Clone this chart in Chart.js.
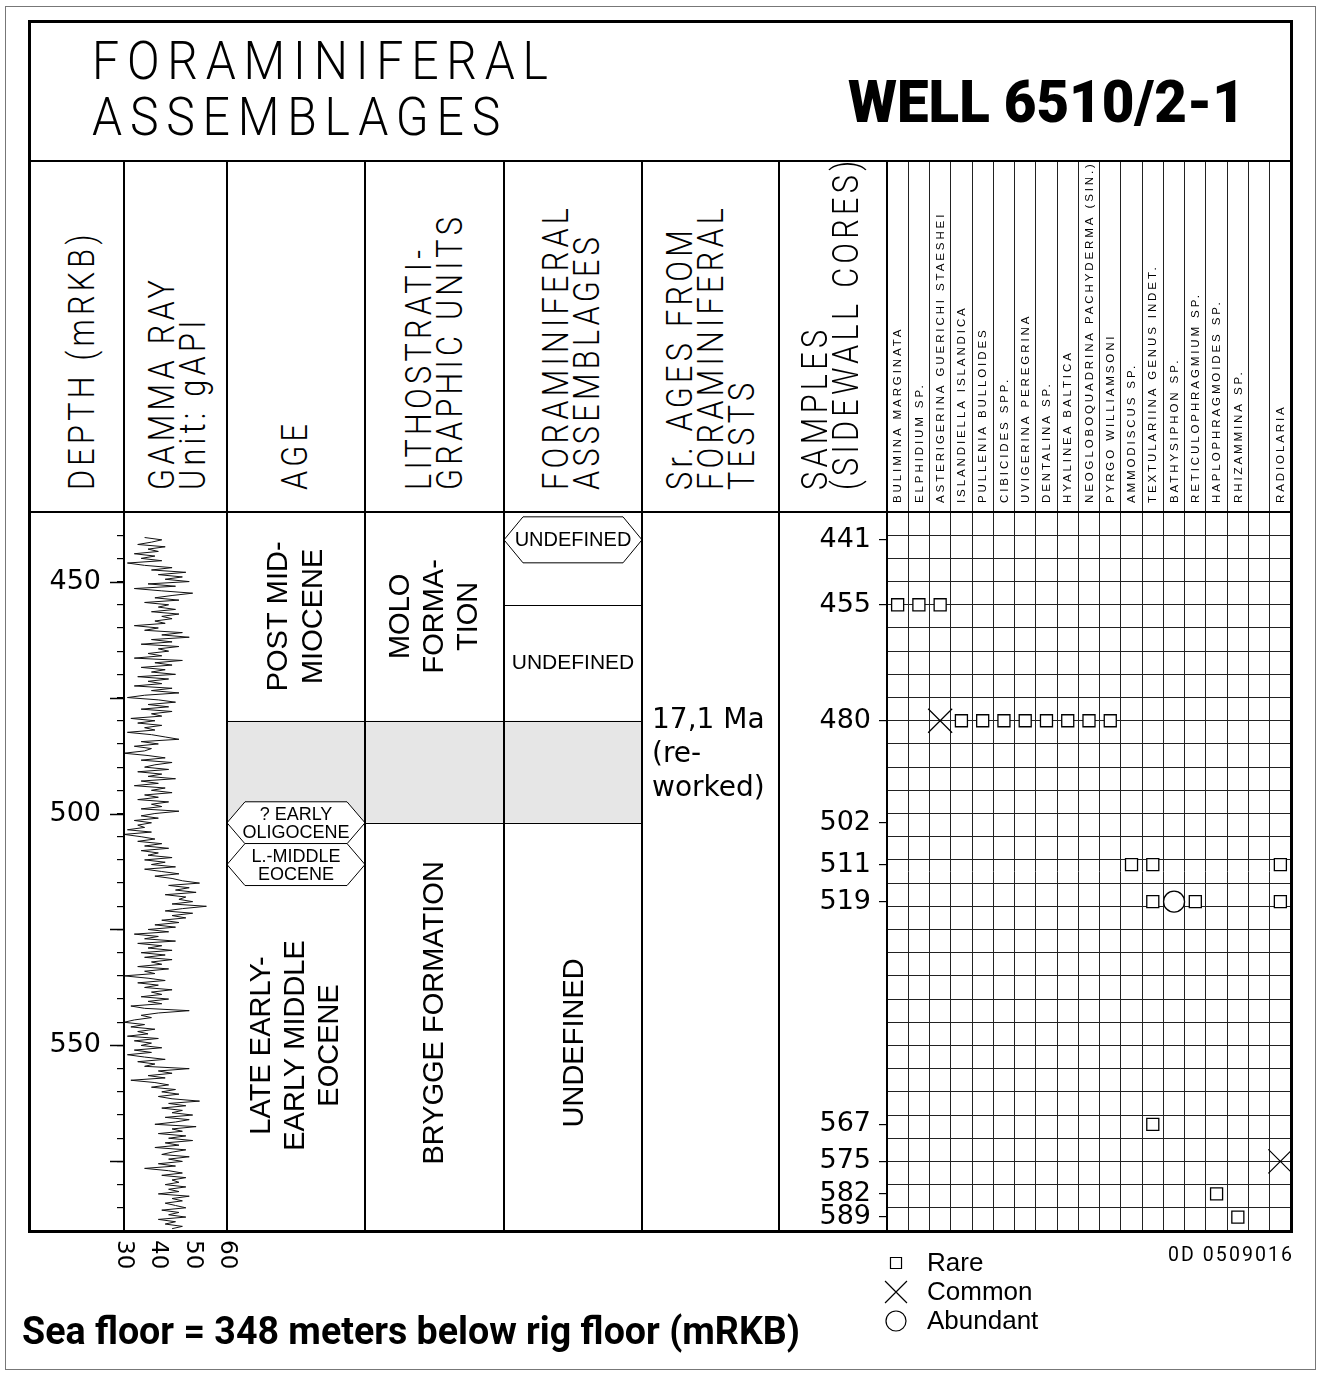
<!DOCTYPE html>
<html>
<head>
<meta charset="utf-8">
<title>Foraminiferal assemblages – Well 6510/2-1</title>
<script src="https://cdn.jsdelivr.net/npm/chart.js@4.4.1/dist/chart.umd.min.js"></script>
<style>
  html, body { margin: 0; padding: 0; background: #fff; }
  body { width: 1320px; height: 1375px; position: relative; overflow: hidden; }
  canvas { position: absolute; }
  .ln { position: absolute; background: #000; }
  .t { position: absolute; white-space: nowrap; color: #000; }
</style>
</head>
<body>
<canvas id="log" width="750" height="790" style="left:29px; top:500px"></canvas>
<canvas id="samples" width="541" height="1214" style="left:779px; top:161px"></canvas>
<script>
// ---- data ----
const depthMin = 435, depthMax = 590;
const depthLabels = [450, 500, 550];
const gammaTicks = [30, 40, 50, 60];

// gamma ray log (gAPI), every 0.5 m from 440.5 m
const gammaTop = 440.5, gammaStep = 0.5;
const gammaRay = [
  36, 41, 38, 34, 42, 37, 40, 33, 39, 35,
  41, 31, 36, 44, 38, 48, 40, 47, 42, 49,
  37, 45, 33, 41, 50, 44, 39, 46, 36, 43,
  40, 45, 38, 46, 41, 44, 39, 42, 33, 40,
  36, 47, 41, 49, 38, 44, 35, 46, 40, 43,
  37, 41, 33, 47, 39, 44, 35, 42, 38, 45,
  34, 43, 37, 41, 33, 44, 38, 46, 36, 31,
  40, 45, 37, 43, 35, 44, 38, 41, 32, 39,
  34, 41, 36, 39, 31, 38, 42, 46, 35, 40,
  33, 38, 36, 30, 37, 42, 35, 44, 39, 36,
  43, 34, 41, 37, 45, 35, 40, 33, 42, 38,
  44, 36, 40, 34, 43, 38, 41, 35, 46, 39,
  35, 40, 33, 38, 34, 36, 31, 38, 30, 35,
  39, 34, 41, 36, 43, 35, 40, 37, 44, 36,
  42, 38, 45, 36, 41, 46, 39, 44, 47, 52,
  43, 49, 45, 51, 42, 48, 46, 50, 44, 54,
  47, 42, 50, 44, 48, 41, 46, 39, 45, 37,
  43, 33, 40, 36, 45, 34, 41, 37, 44, 35,
  42, 36, 44, 38, 41, 34, 43, 36, 39, 30,
  37, 42, 34, 40, 36, 44, 38, 41, 35, 43,
  37, 41, 32, 36, 49, 40, 35, 38, 33, 30,
  36, 32, 39, 34, 37, 31, 40, 33, 38, 35,
  41, 33, 38, 31, 36, 42, 34, 39, 36, 49,
  40, 44, 37, 42, 32, 39, 43, 38, 45, 41,
  46, 40, 44, 52, 43, 48, 41, 47, 44, 50,
  42, 49, 45, 39, 51, 44, 47, 40, 48, 43,
  50, 42, 46, 39, 48, 44, 41, 49, 43, 47,
  40, 45, 36, 43, 47, 41, 48, 44, 46, 42,
  48, 43, 46, 40, 49, 44, 47, 42, 45, 48,
  41, 46, 43, 48, 40, 45, 42, 47, 44
];

const species = [
  'BULIMINA MARGINATA', 'ELPHIDIUM SP.', 'ASTERIGERINA GUERICHI STAESHEI',
  'ISLANDIELLA ISLANDICA', 'PULLENIA BULLOIDES', 'CIBICIDES SPP.',
  'UVIGERINA PEREGRINA', 'DENTALINA SP.', 'HYALINEA BALTICA',
  'NEOGLOBOQUADRINA PACHYDERMA (SIN.)', 'PYRGO WILLIAMSONI', 'AMMODISCUS SP.',
  'TEXTULARIINA GENUS INDET.', 'BATHYSIPHON SP.', 'RETICULOPHRAGMIUM SP.',
  'HAPLOPHRAGMOIDES SP.', 'RHIZAMMINA SP.', '', 'RADIOLARIA'
];

// sidewall core depths; the last one is drawn squeezed up above the base, as on the log
const sampleDepths     = [441, 455, 480, 502, 511, 519, 567, 575, 582, 589];
const samplePlotDepths = [441, 455, 480, 502, 511, 519, 567, 575, 582, 587];

// occurrences: sample depth -> species index
const rare     = { 455: [0, 1, 2], 480: [3, 4, 5, 6, 7, 8, 9, 10], 511: [11, 12, 18],
                   519: [12, 14, 18], 567: [12], 582: [15], 589: [16] };
const common   = { 480: [2], 575: [18] };
const abundant = { 519: [13] };

const ageUnits = [
  { from: 435, to: 480, lines: ['POST MID-', 'MIOCENE'] },
  { from: 510, to: 590, lines: ['LATE EARLY-', 'EARLY MIDDLE', 'EOCENE'] }
];
const ageDated = [
  { at: 502, lines: ['? EARLY', 'OLIGOCENE'] },
  { at: 511, lines: ['L.-MIDDLE', 'EOCENE'] }
];
const lithoUnits = [
  { from: 435, to: 480, lines: ['MOLO', 'FORMA-', 'TION'] },
  { from: 502, to: 590, lines: ['BRYGGE FORMATION'] }
];
const foramUnits = [
  { from: 455, to: 480, lines: ['UNDEFINED'], upright: true },
  { from: 502, to: 590, lines: ['UNDEFINED'] }
];
const foramDated = [{ at: 441, lines: ['UNDEFINED'] }];
const hiatus = [480, 502];
const srAge = { at: 480, lines: ['17,1 Ma', '(re-', 'worked)'] };

// ---- layout ----
const COL = { left: 29, gamma: 124, age: 227, litho: 365, foram: 504, sr: 642, samples: 779, grid: 887, right: 1291 };
const Y_TOP = 21, Y_HEAD = 161, Y_DATA = 512, Y_BASE = 1231;
const ARIAL = '"Liberation Sans", Arial, Helvetica, sans-serif';
const DEJAVU = '"DejaVu Sans", Verdana, sans-serif';
const ROBOTO = { fam: 'Roboto, "Liberation Sans", sans-serif', asc: 0.927, desc: 0.244, cap: 0.711 };

function line(x, y, w, h, color) {
  const d = document.createElement('div');
  d.className = 'ln';
  Object.assign(d.style, { left: x + 'px', top: y + 'px', width: w + 'px', height: h + 'px' });
  if (color) d.style.background = color;
  document.body.appendChild(d);
}

function makeText(text, o) {
  const d = document.createElement('div');
  d.className = 't';
  d.textContent = text;
  Object.assign(d.style, { fontFamily: ROBOTO.fam, fontSize: o.size + 'px', fontWeight: o.weight || 400, lineHeight: o.size + 'px' });
  document.body.appendChild(d);
  return d;
}
function natural(text, o) { const d = makeText(text, o); const w = d.getBoundingClientRect().width; d.remove(); return w; }
function tracking(text, len, o) { return (len / o.sx - natural(text, o)) / (text.length - 1); }
function capOffset(size) { return (size - (ROBOTO.asc + ROBOTO.desc) * size) / 2 + ROBOTO.asc * size - ROBOTO.cap * size; }

function put(text, o) {
  const d = makeText(text, o);
  const ls = o.ls || 0;
  d.style.letterSpacing = ls + 'px';
  const w = d.getBoundingClientRect().width - ls;
  const sx = o.sx || (o.len ? o.len / w : 1);
  const off = capOffset(o.size);
  d.style.transformOrigin = '0 0';
  if (o.vertical) {
    d.style.left = (o.capLeft - off) + 'px';
    d.style.top = o.y0 + 'px';
    d.style.transform = 'rotate(-90deg) scaleX(' + sx + ')';
  } else {
    d.style.left = (o.right !== undefined ? o.right - w * sx : o.x) + 'px';
    d.style.top = (o.capTop - off) + 'px';
    d.style.transform = 'scaleX(' + sx + ')';
  }
}

function hexagon(ctx, l, r, cy, h, inset) {
  ctx.beginPath();
  ctx.moveTo(l, cy);
  ctx.lineTo(l + inset, cy - h);
  ctx.lineTo(r - inset, cy - h);
  ctx.lineTo(r, cy);
  ctx.lineTo(r - inset, cy + h);
  ctx.lineTo(l + inset, cy + h);
  ctx.closePath();
  ctx.fillStyle = '#fff';
  ctx.fill();
  ctx.stroke();
}

function textLines(ctx, lines, cx, cy, pitch, rotate) {
  ctx.save();
  ctx.translate(cx, cy);
  if (rotate) ctx.rotate(-Math.PI / 2);
  ctx.textAlign = 'center';
  ctx.textBaseline = 'middle';
  lines.forEach((s, k) => {
    const off = (k - (lines.length - 1) / 2) * pitch;
    ctx.fillText(s, 0, off);
  });
  ctx.restore();
}

// ---- log chart: depth axis, gamma ray curve, stratigraphic columns ----
const logDecor = {
  id: 'logDecor',
  afterDraw(chart) {
    const { ctx, chartArea: a, scales: { x, y } } = chart;
    const X = px => px - COL.left;
    const Y = d => y.getPixelForValue(d);
    ctx.save();

    // long ticks every 25 m
    ctx.strokeStyle = '#000';
    ctx.lineWidth = 1.5;
    y.ticks.forEach(t => {
      if (t.value % 25) return;
      const py = Math.round(Y(t.value)) + 0.5;
      ctx.beginPath(); ctx.moveTo(a.left - 14, py); ctx.lineTo(a.left, py); ctx.stroke();
    });

    // gamma ray scale, written top-to-bottom under the column
    ctx.fillStyle = '#000';
    ctx.font = '23px ' + DEJAVU;
    ctx.textAlign = 'left';
    ctx.textBaseline = 'middle';
    gammaTicks.forEach(v => {
      ctx.save();
      ctx.translate(x.getPixelForValue(v), a.bottom + 9);
      ctx.rotate(Math.PI / 2);
      ctx.fillText(String(v), 0, 0);
      ctx.restore();
    });

    // hiatus band
    ctx.fillStyle = '#e6e6e6';
    ctx.fillRect(X(COL.age), Y(hiatus[0]), X(COL.sr) - X(COL.age), Y(hiatus[1]) - Y(hiatus[0]));
    ctx.strokeStyle = '#000';
    ctx.lineWidth = 1.2;
    const hl = (l, r, d) => { const py = Math.round(Y(d)) + 0.5; ctx.beginPath(); ctx.moveTo(l, py); ctx.lineTo(r, py); ctx.stroke(); };
    hl(X(COL.age), X(COL.sr), hiatus[0]);
    [[lithoUnits, COL.litho, COL.foram], [foramUnits, COL.foram, COL.sr]].forEach(([units, l, r]) => {
      units.forEach(u => {
        if (u.from > depthMin) hl(X(l), X(r), u.from);
        if (u.to < depthMax) hl(X(l), X(r), u.to);
      });
    });

    // unit names
    ctx.fillStyle = '#000';
    ctx.font = '29px ' + ARIAL;
    const mid = (l, r) => (X(l) + X(r)) / 2;
    ageUnits.forEach(u => textLines(ctx, u.lines, mid(COL.age, COL.litho), Y((u.from + u.to) / 2), u.lines.length > 2 ? 34 : 35, true));
    lithoUnits.forEach(u => textLines(ctx, u.lines, mid(COL.litho, COL.foram), Y((u.from + u.to) / 2) - (u.from > 480 ? 14 : 0), 34, true));
    foramUnits.forEach(u => {
      if (u.upright) {
        ctx.font = '21px ' + ARIAL;
        textLines(ctx, u.lines, mid(COL.foram, COL.sr), Y((u.from + u.to) / 2), 24, false);
        ctx.font = '29px ' + ARIAL;
      } else {
        textLines(ctx, u.lines, mid(COL.foram, COL.sr) + 2, Y((u.from + u.to) / 2) + 16, 34, true);
      }
    });

    // dated samples as hexagons
    ctx.lineWidth = 1;
    ageDated.forEach(s => {
      ctx.strokeStyle = '#000';
      hexagon(ctx, X(COL.age), X(COL.litho), Y(s.at), 21, 18);
      ctx.fillStyle = '#000';
      ctx.font = '18px ' + ARIAL;
      textLines(ctx, s.lines, mid(COL.age, COL.litho), Y(s.at) + 1, 18, false);
    });
    foramDated.forEach(s => {
      ctx.strokeStyle = '#000';
      hexagon(ctx, X(COL.foram), X(COL.sr), Y(s.at), 23, 19);
      ctx.fillStyle = '#000';
      ctx.font = '20px ' + ARIAL;
      textLines(ctx, s.lines, mid(COL.foram, COL.sr), Y(s.at) + 1, 20, false);
    });

    // Sr age
    ctx.fillStyle = '#000';
    ctx.font = '28px ' + DEJAVU;
    ctx.textAlign = 'left';
    ctx.textBaseline = 'middle';
    srAge.lines.forEach((s, k) => ctx.fillText(s, X(COL.sr) + 10, Y(srAge.at) + k * 34));
    ctx.restore();
  }
};

new Chart(document.getElementById('log'), {
  type: 'scatter',
  data: {
    datasets: [{
      data: gammaRay.map((v, i) => ({ x: v, y: gammaTop + i * gammaStep })),
      showLine: true,
      borderColor: '#111',
      borderWidth: 1,
      pointRadius: 0,
      tension: 0
    }]
  },
  options: {
    responsive: false,
    animation: false,
    events: [],
    layout: { padding: { top: Y_DATA - 500, right: 750 - (COL.age - COL.left), bottom: 790 - (Y_BASE - 500), left: 0 } },
    plugins: { legend: { display: false }, tooltip: { enabled: false } },
    scales: {
      x: { type: 'linear', min: 30, max: 60, display: false },
      y: {
        type: 'linear', min: depthMin, max: depthMax, reverse: true,
        afterFit: s => { s.width = COL.gamma - COL.left; s.paddingTop = 0; s.paddingBottom = 0; },
        border: { display: false },
        grid: { drawOnChartArea: false, drawTicks: true, tickLength: 7, color: '#000', lineWidth: 1.2 },
        ticks: {
          stepSize: 5, autoSkip: false, padding: 16, color: '#000',
          font: { family: DEJAVU, size: 27 },
          callback: v => depthLabels.includes(v) ? String(v) : ''
        }
      }
    }
  },
  plugins: [logDecor]
});

// ---- samples chart: species occurrence grid ----
function points(occ) {
  const out = [];
  Object.keys(occ).forEach(d => {
    const yv = samplePlotDepths[sampleDepths.indexOf(+d)];
    occ[d].forEach(i => out.push({ x: species[i], y: yv }));
  });
  return out;
}

const legendSize = [7.8, 15.5, 10];

const sampleDecor = {
  id: 'sampleDecor',
  afterDraw(chart) {
    const { ctx, chartArea: a, scales: { x } } = chart;
    const w = (a.right - a.left) / species.length;
    ctx.save();
    // species header columns
    ctx.strokeStyle = '#222';
    ctx.lineWidth = 1;
    for (let i = 1; i < species.length; i++) {
      const bx = Math.round(x.getPixelForValue(i) - w / 2 - 0.5) + 0.5;
      ctx.beginPath(); ctx.moveTo(bx, 0); ctx.lineTo(bx, a.top); ctx.stroke();
    }
    ctx.fillStyle = '#000';
    ctx.font = '11.5px ' + ARIAL;
    ctx.letterSpacing = '2.9px';
    ctx.textAlign = 'left';
    ctx.textBaseline = 'middle';
    species.forEach((s, i) => {
      if (!s) return;
      ctx.save();
      ctx.translate(x.getPixelForValue(i) + 0.5, a.top - 9);
      ctx.rotate(-Math.PI / 2);
      ctx.fillText(s, 0, 0);
      ctx.restore();
    });
    ctx.letterSpacing = '0px';

    // legend
    const lx = 896 - COL.samples, ly = 1263 - Y_HEAD;
    chart.data.datasets.forEach((ds, i) => {
      const cy = ly + i * 29;
      ctx.strokeStyle = '#000';
      ctx.fillStyle = '#fff';
      ctx.lineWidth = 1.2;
      Chart.helpers.drawPoint(ctx, { pointStyle: ds.pointStyle, radius: legendSize[i], rotation: 0, borderWidth: 1.2 }, lx, cy);
      ctx.fillStyle = '#000';
      ctx.font = '26px ' + ARIAL;
      ctx.textAlign = 'left';
      ctx.textBaseline = 'middle';
      ctx.fillText(ds.label, lx + 31, cy + 1);
    });
    ctx.restore();
  }
};

const markerBase = { borderColor: '#000', backgroundColor: '#fff', borderWidth: 1.3, clip: false, pointHoverRadius: 0 };
new Chart(document.getElementById('samples'), {
  type: 'scatter',
  data: {
    labels: species,
    datasets: [
      Object.assign({ label: 'Rare', data: points(rare), pointStyle: 'rect', pointRadius: 8.5 }, markerBase),
      Object.assign({ label: 'Common', data: points(common), pointStyle: 'crossRot', pointRadius: 17 }, markerBase, { borderWidth: 1.2 }),
      Object.assign({ label: 'Abundant', data: points(abundant), pointStyle: 'circle', pointRadius: 10.5 }, markerBase)
    ]
  },
  options: {
    responsive: false,
    animation: false,
    events: [],
    layout: { padding: { top: Y_DATA - Y_HEAD, right: 541 - (COL.right - COL.samples), bottom: 1214 - (Y_BASE - Y_HEAD), left: 0 } },
    plugins: { legend: { display: false }, tooltip: { enabled: false } },
    scales: {
      x: {
        type: 'category', labels: species, offset: true,
        grid: { offset: true, color: '#222', lineWidth: 1, drawTicks: false },
        border: { display: false },
        ticks: { display: false },
        afterFit: s => { s.height = 0; s.paddingLeft = 0; s.paddingRight = 0; }
      },
      y: {
        type: 'linear', min: depthMin, max: depthMax, reverse: true, position: 'left',
        afterFit: s => { s.width = COL.grid - COL.samples; s.paddingTop = 0; s.paddingBottom = 0; },
        afterBuildTicks: s => { s.ticks = samplePlotDepths.map(v => ({ value: v })); },
        grid: { drawOnChartArea: false, tickLength: 8, color: '#000', lineWidth: 1.2 },
        border: { display: false },
        ticks: {
          autoSkip: false, padding: 8, color: '#000',
          font: { family: DEJAVU, size: 27 },
          callback: (v, i) => String(sampleDepths[i])
        }
      },
      g: {
        type: 'linear', min: depthMin, max: depthMax, reverse: true, position: 'right',
        afterFit: s => { s.width = 0; s.paddingTop = 0; s.paddingBottom = 0; },
        ticks: { display: false, stepSize: 5 },
        grid: { color: '#222', lineWidth: 1, drawTicks: false },
        border: { display: false }
      }
    }
  },
  plugins: [sampleDecor]
});

// ---- frame ----
line(5, 6, 1311, 1.3, '#777'); line(5, 1369, 1311, 1.3, '#777');
line(5, 6, 1.3, 1364, '#777'); line(1315, 6, 1.3, 1364, '#777');
line(28, 19.5, 1265, 3); line(28, 1229.5, 1265, 3);
line(28, 19.5, 2.5, 1213); line(1290, 19.5, 2.5, 1213);
line(28, 159.8, 1265, 2.5);
line(28, 511, 1265, 2);
[COL.gamma, COL.age, COL.litho, COL.foram, COL.sr, COL.samples].forEach(x => line(x - 0.75, Y_HEAD, 1.5, Y_BASE - Y_HEAD));
line(COL.grid - 1, Y_HEAD, 2, Y_BASE - Y_HEAD);

// ---- texts ----
const titleO = { size: 53.5, weight: 300, sx: 0.9 };
titleO.ls = tracking('FORAMINIFERAL', 456, titleO);
put('FORAMINIFERAL', Object.assign({ x: 92, capTop: 41 }, titleO));
put('ASSEMBLAGES', Object.assign({ x: 92, capTop: 97 }, titleO));
put('WELL 6510/2-1', { size: 59, weight: 900, x: 848, capTop: 80, len: 397 });

const headO = { size: 36.5, weight: 300, sx: 0.84 };
headO.ls = tracking('FORAMINIFERAL', 282, headO);
const headers = [
  [69, ['DEPTH (mRKB)']],
  [149, ['GAMMA RAY', 'Unit: gAPI']],
  [282, ['AGE']],
  [406, ['LITHOSTRATI-', 'GRAPHIC UNITS']],
  [543, ['FORAMINIFERAL', 'ASSEMBLAGES']],
  [667, ['Sr. AGES FROM', 'FORAMINIFERAL', 'TESTS']],
  [802, ['SAMPLES', '(SIDEWALL CORES)']]
];
headers.forEach(([cx, lines]) => lines.forEach((s, k) =>
  put(s, Object.assign({ vertical: true, capLeft: cx + k * 31, y0: 490 }, headO))));

put('Sea floor = 348 meters below rig floor (mRKB)', { size: 38, weight: 700, x: 22, capTop: 1317, len: 778 });
const codeO = { size: 19.5, weight: 400, sx: 1 };
codeO.ls = tracking('0D 0509016', 124, codeO);
put('0D 0509016', Object.assign({ right: 1292, capTop: 1248 }, codeO));
</script>
</body>
</html>
